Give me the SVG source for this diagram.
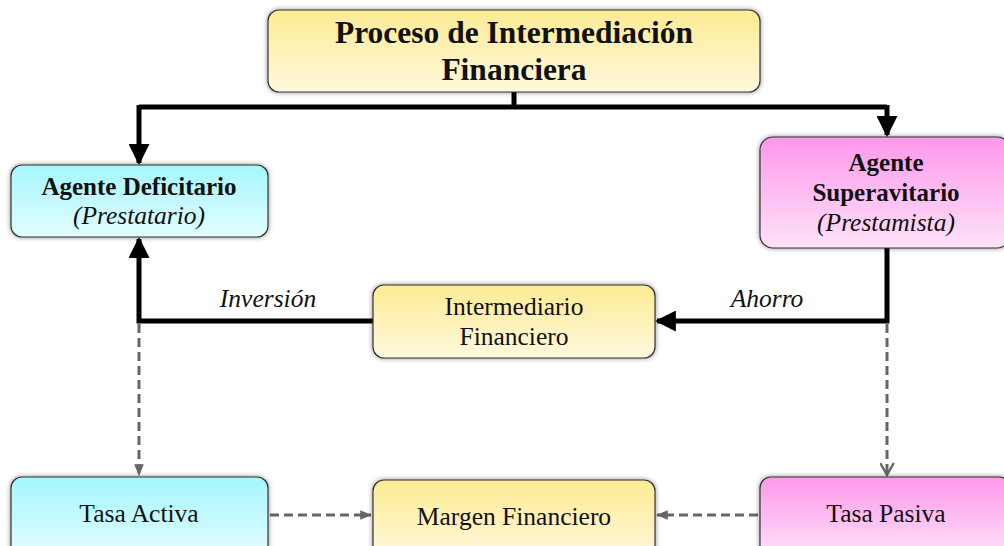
<svg xmlns="http://www.w3.org/2000/svg" width="1004" height="546" viewBox="0 0 1004 546">
<style>
.box{stroke:#333;stroke-width:1.2;filter:url(#sh)}
.y{fill:url(#gy)}.c{fill:url(#gc)}.p{fill:url(#gp)}
text{font-family:"Liberation Serif","Times New Roman",serif;fill:#111;text-anchor:middle}
.t{font-size:31.5px;font-weight:bold}
.b{font-size:25px;font-weight:bold}
.i{font-size:25.5px;font-style:italic}
.r{font-size:25.5px}
.solid{fill:none;stroke:#000;stroke-width:5}
.dash{fill:none;stroke:#666;stroke-width:3;stroke-dasharray:9 5}
</style>
<defs>
<linearGradient id="gy" x1="0" y1="0" x2="0" y2="1"><stop offset="0" stop-color="#fdeb93"/><stop offset="1" stop-color="#fff8de"/></linearGradient>
<linearGradient id="gc" x1="0" y1="0" x2="0" y2="1"><stop offset="0" stop-color="#a5f6fc"/><stop offset="1" stop-color="#e2fdff"/></linearGradient>
<linearGradient id="gp" x1="0" y1="0" x2="0" y2="1"><stop offset="0" stop-color="#fd98ea"/><stop offset="1" stop-color="#fee2f9"/></linearGradient>
<filter id="sh" x="-10%" y="-20%" width="120%" height="140%"><feDropShadow dx="0" dy="0" stdDeviation="2.5" flood-color="#000" flood-opacity="0.45"/></filter>
<marker id="ab" viewBox="0 0 10 10" refX="9" refY="5" markerWidth="4.2" markerHeight="4.2" orient="auto"><path d="M0,0L10,5L0,10z" fill="#000"/></marker>
<marker id="ag" viewBox="0 0 10 10" refX="9" refY="5" markerWidth="4" markerHeight="4" orient="auto"><path d="M0,1L10,5L0,9z" fill="#666"/></marker>
<marker id="agv" viewBox="0 0 10 10" refX="9" refY="5" markerWidth="5" markerHeight="5" orient="auto"><path d="M1,0.5L9,5L1,9.5" fill="none" stroke="#666" stroke-width="1.6"/></marker>
</defs>
<g id="connectors" font-family="'Liberation Serif', 'Times New Roman', serif">
<path class="solid" d="M514,92V107"/>
<path class="solid" d="M139,107H887"/>
<path class="solid" d="M139,105V163" marker-end="url(#ab)"/>
<path class="solid" d="M887,105V135" marker-end="url(#ab)"/>
<path class="solid" d="M373,321H139V239" marker-end="url(#ab)"/>
<path class="solid" d="M887,248V321H657" marker-end="url(#ab)"/>
<path class="dash" d="M139,324V475" marker-end="url(#ag)"/>
<path class="dash" d="M887,324V475" marker-end="url(#agv)"/>
<path class="dash" d="M270,515H371" marker-end="url(#ag)"/>
<path class="dash" d="M758,515H657" marker-end="url(#ag)"/>
<text class="i" x="268" y="307" font-size="24px">Inversión</text>
<text class="i" x="767" y="307" font-size="24px">Ahorro</text>
</g>
<g id="n-proceso"><rect class="box y" x="268" y="10" width="492" height="82" rx="11"/>
<text class="t" x="514" y="43">Proceso de Intermediación</text><text class="t" x="514" y="80">Financiera</text></g>
<g id="n-deficitario"><rect class="box c" x="11" y="165" width="257" height="72" rx="11"/>
<text class="b" x="139" y="195">Agente Deficitario</text><text class="i" x="139" y="224">(Prestatario)</text></g>
<g id="n-superavitario"><rect class="box p" x="760" y="137" width="250" height="111" rx="13"/>
<text class="b" x="886" y="171">Agente</text><text class="b" x="886" y="201">Superavitario</text><text class="i" x="886" y="231">(Prestamista)</text></g>
<g id="n-intermediario"><rect class="box y" x="373" y="285" width="282" height="73" rx="11"/>
<text class="r" x="514" y="315">Intermediario</text><text class="r" x="514" y="345">Financiero</text></g>
<g id="n-activa"><rect class="box c" x="11" y="477" width="257" height="80" rx="11"/>
<text class="r" x="139" y="522">Tasa Activa</text></g>
<g id="n-margen"><rect class="box y" x="373" y="480" width="282" height="80" rx="11"/>
<text class="r" x="514" y="525">Margen Financiero</text></g>
<g id="n-pasiva"><rect class="box p" x="760" y="477" width="250" height="80" rx="11"/>
<text class="r" x="886" y="522">Tasa Pasiva</text></g>
</svg>
